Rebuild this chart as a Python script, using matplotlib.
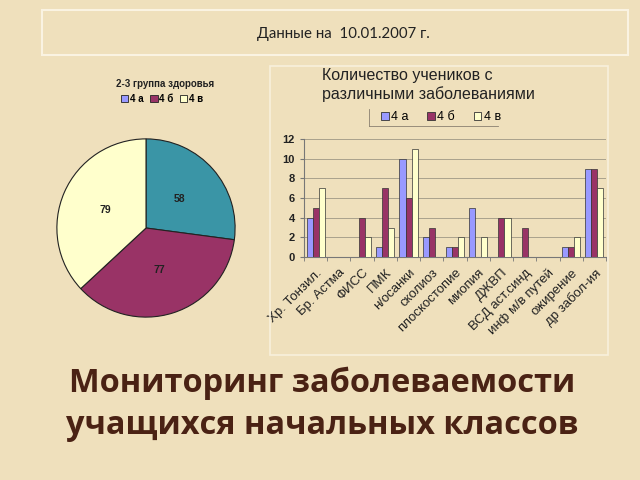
import numpy as np
import matplotlib.pyplot as plt
from matplotlib.patches import Rectangle, Patch

# данные
diseases = ["Хр. Тонзил.", "Бр. Астма", "ФИСС", "ПМК", "н/осанки", "сколиоз",
            "плоскостопие", "миопия", "ДЖВП", "ВСД аст.синд", "инф м/в путей",
            "ожирение", "др забол-ия"]
class_a = [4, 0, 0, 1, 10, 2, 1, 5, 0, 0, 0, 1, 9]
class_b = [5, 0, 4, 7, 6, 3, 1, 0, 4, 3, 0, 1, 9]
class_v = [7, 0, 2, 3, 11, 0, 2, 2, 4, 0, 0, 2, 7]
series_names = ["4 а", "4 б", "4 в"]

pie_values = [58, 77, 79]

bg = '#efe0bc'
c_a, c_b, c_v = '#9999ff', '#993366', '#ffffcc'
pie_colors = ['#3a95a6', '#993366', '#ffffcc']

fig = plt.figure(figsize=(6.4, 4.8), dpi=100, facecolor=bg)

# верхняя рамка с датой
fig.patches.append(Rectangle((42 / 640, 1 - 55 / 480), 586 / 640, 45 / 480,
                             transform=fig.transFigure, fill=False,
                             edgecolor='#faf3e2', lw=1.5))
fig.text(343 / 640, 1 - 34 / 480, "Данные на  10.01.2007 г.", ha='center', va='center',
         fontsize=10.8, family='Lato', color='#222222')

# рамка вокруг столбчатой диаграммы
fig.patches.append(Rectangle((270 / 640, 1 - 355 / 480), 338 / 640, 289 / 480,
                             transform=fig.transFigure, fill=False,
                             edgecolor='#f8f0dc', lw=1.2))

# круговая диаграмма
ax_pie = fig.add_axes([56 / 640, 1 - 318 / 480, 180 / 640, 180 / 480])
ax_pie.pie(pie_values, colors=pie_colors, startangle=90, counterclock=False,
           labels=[str(v) for v in pie_values], labeldistance=0.5,
           wedgeprops=dict(edgecolor='#222222', linewidth=0.8),
           textprops=dict(fontsize=7.5, fontweight='bold', family='Liberation Sans',
                          ha='center', va='center', color='#222222'))
ax_pie.set_xlim(-1.01, 1.01)
ax_pie.set_ylim(-1.01, 1.01)
ax_pie.set_aspect('equal')

fig.text(165 / 640, 1 - 84 / 480, "2-3 группа здоровья", ha='center', va='center',
         fontsize=7, fontweight='bold', family='Liberation Sans', color='#222222')
pie_handles = [Patch(facecolor=c, edgecolor='#222222', lw=0.6, label=n)
               for c, n in zip([c_a, c_b, c_v], series_names)]
fig.legend(handles=pie_handles, loc='center', bbox_to_anchor=(162 / 640, 1 - 99 / 480),
           ncol=3, frameon=False, prop=dict(family='Liberation Sans', size=7, weight='bold'),
           handlelength=0.8, handleheight=0.8, handletextpad=0.2, columnspacing=0.6,
           borderpad=0)

# столбчатая диаграмма
ax = fig.add_axes([304 / 640, 1 - 257 / 480, 302 / 640, 118 / 480])
ax.set_facecolor('none')
x = np.arange(len(diseases))
w = 0.26
for off, vals, col in zip([-w, 0, w], [class_a, class_b, class_v], [c_a, c_b, c_v]):
    ax.bar(x + off, vals, width=w, color=col, edgecolor='#333333', linewidth=0.5, zorder=3)

ax.set_xlim(-0.5, len(diseases) - 0.5)
ax.set_ylim(0, 12)
ax.set_yticks(range(0, 13, 2))
ax.grid(axis='y', color='#a9a28c', lw=0.7, zorder=0)
for s in ['top', 'right']:
    ax.spines[s].set_visible(False)
ax.spines['left'].set_color('#777777')
ax.spines['bottom'].set_color('#777777')
ax.set_xticks(x)
ax.set_xticklabels(diseases, rotation=45, ha='right', rotation_mode='anchor',
                   fontsize=9.5, family='Liberation Sans', color='#222222')
ax.tick_params(axis='x', length=0, pad=7)
ax.set_xticks(np.arange(-0.5, len(diseases), 1), minor=True)
ax.tick_params(axis='x', which='minor', length=3, color='#777777')
ax.tick_params(axis='y', labelsize=8, length=3, color='#777777', labelcolor='#222222')
for t in ax.get_yticklabels():
    t.set_family('Liberation Sans')
    t.set_fontweight('bold')

fig.text(322 / 640, 1 - 85 / 480, "Количество учеников с\nразличными заболеваниями",
         ha='left', va='center', fontsize=11.5, family='Liberation Sans',
         color='#222222', linespacing=1.25)
bar_handles = [Patch(facecolor=c, edgecolor='#333333', lw=0.6, label=n)
               for c, n in zip([c_a, c_b, c_v], series_names)]
fig.legend(handles=bar_handles, loc='center', bbox_to_anchor=(441 / 640, 1 - 117 / 480),
           ncol=3, frameon=False, prop=dict(family='Liberation Sans', size=9),
           handlelength=0.6, handleheight=0.6, handletextpad=0.2, columnspacing=1.5,
           borderpad=0)
fig.add_artist(plt.Line2D([369 / 640, 498 / 640], [1 - 126 / 480, 1 - 126 / 480],
                          transform=fig.transFigure, color='#8a8070', lw=0.6))
fig.add_artist(plt.Line2D([369 / 640, 369 / 640], [1 - 109 / 480, 1 - 126 / 480],
                          transform=fig.transFigure, color='#8a8070', lw=0.6))

# заголовок слайда
fig.text(322 / 640, 1 - 383 / 480, "Мониторинг заболеваемости", ha='center', va='center',
         fontsize=23.4, fontweight='bold', family='Open Sans', color='#4a2214')
fig.text(322 / 640, 1 - 425 / 480, "учащихся начальных классов", ha='center', va='center',
         fontsize=23.4, fontweight='bold', family='Open Sans', color='#4a2214')

fig.savefig("out.png", dpi=100, facecolor=bg)
